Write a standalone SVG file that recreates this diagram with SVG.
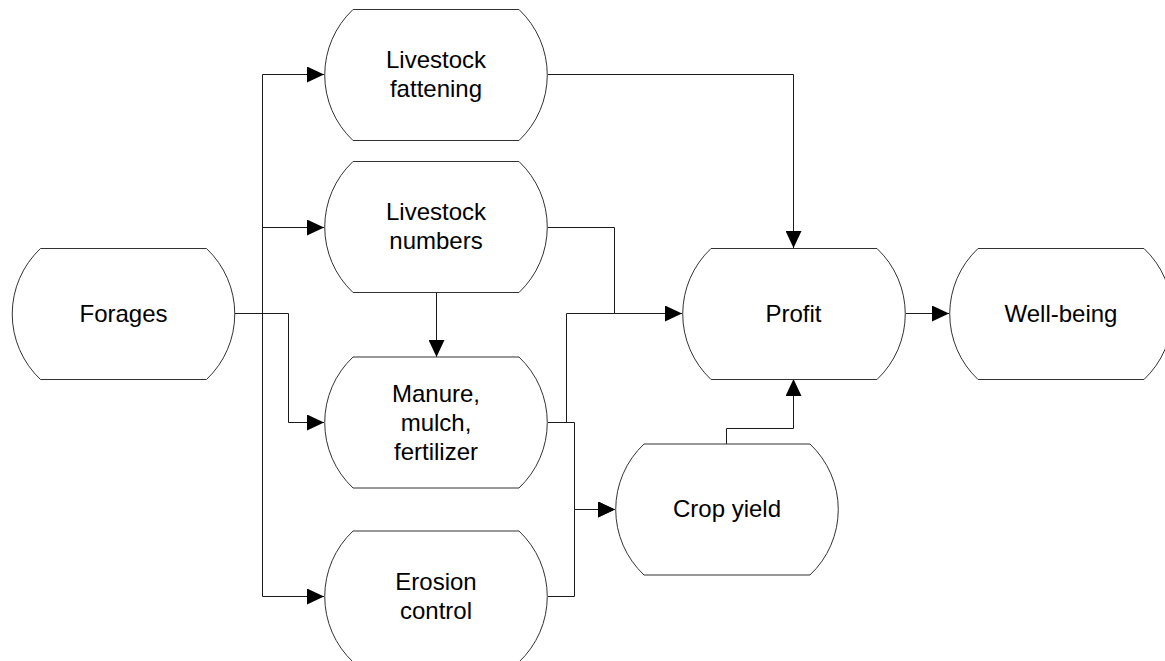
<svg xmlns="http://www.w3.org/2000/svg" xmlns:xlink="http://www.w3.org/1999/xlink" width="1165" height="661" viewBox="0 0 1165 661">
  <style>
    .node { fill: #ffffff; stroke: #333333; stroke-width: 1; }
    .label { font-family: "Liberation Sans", Arial, sans-serif; font-size: 24px; fill: #000000; text-anchor: middle; }
    .wire { fill: none; stroke: #1a1a1a; stroke-width: 1; }
    .arrow { marker-end: url(#head); }
  </style>
  <defs>
    <!-- flat top and bottom, arc-shaped sides -->
    <path id="shape" d="M28.5,0 H194.5 A90,90 0 0 1 194.5,131 H28.5 A90,90 0 0 1 28.5,0 Z"/>
    <marker id="head" markerUnits="userSpaceOnUse" viewBox="0 0 17 16" markerWidth="17" markerHeight="16" refX="17" refY="8" orient="auto">
      <path d="M0,0 L17,8 L0,16 Z" fill="#000000"/>
    </marker>
  </defs>

  <g id="connectors">
    <!-- Forages fan-out -->
    <path class="wire" d="M235,313.5 H262.5"/>
    <path class="wire" d="M262.5,74.5 V596.5"/>
    <path class="wire arrow" d="M262.5,74.5 H324"/>
    <path class="wire arrow" d="M262.5,227.5 H324"/>
    <path class="wire arrow" d="M262.5,596.5 H324"/>
    <path class="wire arrow" d="M235,313.5 H288.5 V422.5 H324"/>
    <!-- Livestock numbers to manure -->
    <path class="wire arrow" d="M436.5,292 V357"/>
    <!-- into Profit -->
    <path class="wire arrow" d="M548,74.5 H793.5 V248"/>
    <path class="wire arrow" d="M548,227.5 H614.5 V313.5 H682"/>
    <path class="wire" d="M548,422.5 H566.5 V313.5 H614.5"/>
    <!-- into Crop yield -->
    <path class="wire arrow" d="M548,422.5 H574.5 V509.5 H615"/>
    <path class="wire arrow" d="M548,596.5 H574.5 V509.5 H615"/>
    <path class="wire arrow" d="M726.5,444 V428.5 H793.5 V379"/>
    <!-- Profit to Well-being -->
    <path class="wire arrow" d="M906,313.5 H949"/>
  </g>

  <g id="forages">
    <use xlink:href="#shape" class="node" x="12" y="248.5"/>
    <text class="label" x="123.5" y="322">Forages</text>
  </g>
  <g id="livestock-fattening">
    <use xlink:href="#shape" class="node" x="324.5" y="9.5"/>
    <text class="label" x="436" y="68">Livestock</text>
    <text class="label" x="436" y="97">fattening</text>
  </g>
  <g id="livestock-numbers">
    <use xlink:href="#shape" class="node" x="324.5" y="161.5"/>
    <text class="label" x="436" y="220">Livestock</text>
    <text class="label" x="436" y="249">numbers</text>
  </g>
  <g id="manure">
    <use xlink:href="#shape" class="node" x="324.5" y="357"/>
    <text class="label" x="436" y="402">Manure,</text>
    <text class="label" x="436" y="431">mulch,</text>
    <text class="label" x="436" y="460">fertilizer</text>
  </g>
  <g id="erosion-control">
    <use xlink:href="#shape" class="node" x="324.5" y="531"/>
    <text class="label" x="436" y="590">Erosion</text>
    <text class="label" x="436" y="619">control</text>
  </g>
  <g id="crop-yield">
    <use xlink:href="#shape" class="node" x="615.5" y="444"/>
    <text class="label" x="727" y="517">Crop yield</text>
  </g>
  <g id="profit">
    <use xlink:href="#shape" class="node" x="682.5" y="248.5"/>
    <text class="label" x="793.5" y="322">Profit</text>
  </g>
  <g id="well-being">
    <use xlink:href="#shape" class="node" x="949.5" y="248.5"/>
    <text class="label" x="1061" y="322">Well-being</text>
  </g>
</svg>
